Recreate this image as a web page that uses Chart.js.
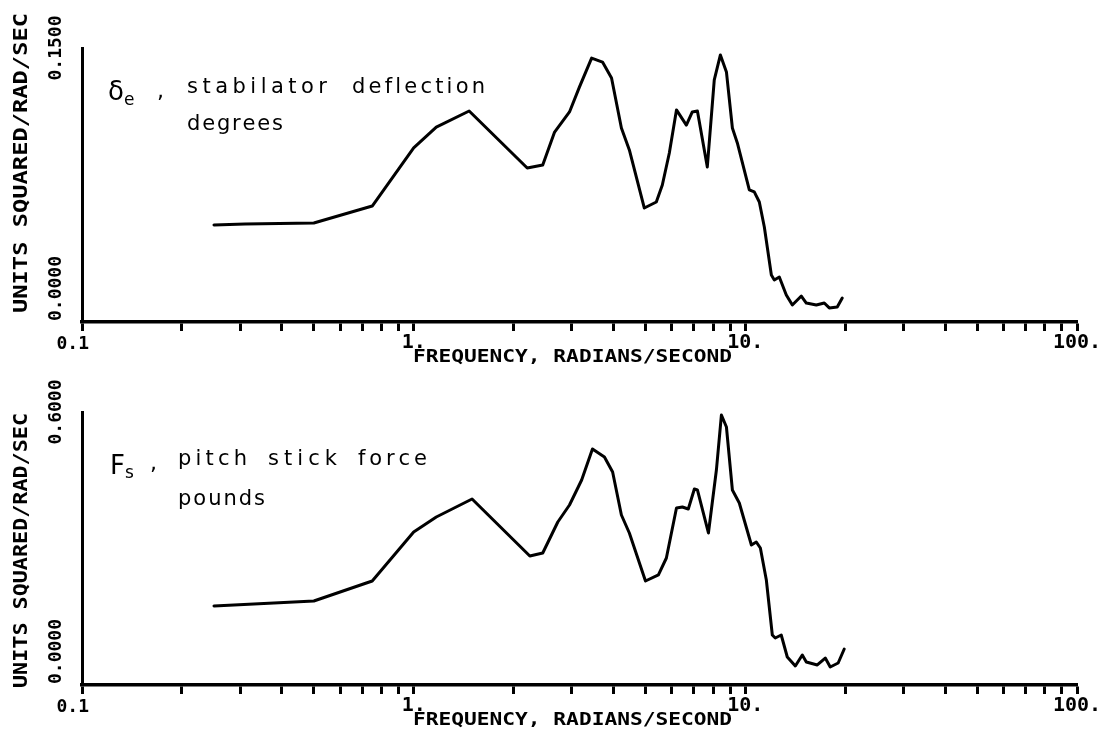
<!DOCTYPE html>
<html>
<head>
<meta charset="utf-8">
<script src="https://cdn.jsdelivr.net/npm/chart.js@4.4.0/dist/chart.umd.min.js"></script>
<style>
  html, body { margin: 0; padding: 0; background: #fff; }
  canvas { display: block; }
</style>
</head>
<body>
<canvas id="graficoStab" width="1105" height="370"></canvas>
<canvas id="graficoStick" width="1105" height="369"></canvas>
<script>
// frequencias (rad/s) e densidade espectral
const freqStab = [0.25, 0.31, 0.5, 0.75, 1.0, 1.17, 1.47, 2.2, 2.45, 2.66, 2.95, 3.16, 3.44, 3.71, 3.95, 4.23, 4.47, 4.96, 5.39, 5.62, 5.9, 6.2, 6.64, 6.92, 7.17, 7.68, 8.06, 8.41, 8.77, 9.14, 9.46, 10.28, 10.64, 11.02, 11.41, 11.98, 12.23, 12.66, 13.29, 13.86, 14.75, 15.27, 16.37, 17.3, 17.91, 18.93, 19.6];
const psdStab = [0.0531, 0.0536, 0.0542, 0.0635, 0.0953, 0.1067, 0.1155, 0.0843, 0.0859, 0.1040, 0.1150, 0.1286, 0.1445, 0.1423, 0.1336, 0.1062, 0.0942, 0.0624, 0.0657, 0.0750, 0.0925, 0.1161, 0.1078, 0.1150, 0.1155, 0.0849, 0.1325, 0.1462, 0.1369, 0.1062, 0.0980, 0.0723, 0.0712, 0.0657, 0.0520, 0.0257, 0.0230, 0.0246, 0.0148, 0.0093, 0.0142, 0.0104, 0.0093, 0.0104, 0.0077, 0.0082, 0.0131];

const freqStick = [0.25, 0.5, 0.75, 1.0, 1.17, 1.5, 2.24, 2.45, 2.72, 2.95, 3.21, 3.46, 3.76, 3.98, 4.23, 4.47, 5.0, 5.47, 5.78, 6.2, 6.46, 6.73, 7.02, 7.17, 7.74, 8.18, 8.47, 8.77, 9.14, 9.59, 10.43, 10.79, 11.1, 11.57, 12.06, 12.31, 12.83, 13.38, 14.15, 14.85, 15.27, 16.48, 17.42, 18.03, 19.05, 19.87];
const psdStick = [0.1736, 0.1846, 0.2286, 0.3363, 0.3692, 0.4088, 0.2835, 0.2901, 0.3582, 0.3956, 0.4505, 0.5187, 0.5011, 0.4681, 0.3736, 0.3341, 0.2286, 0.2418, 0.2791, 0.3890, 0.3912, 0.3868, 0.4308, 0.4286, 0.3341, 0.4725, 0.5934, 0.5670, 0.4286, 0.4000, 0.3077, 0.3143, 0.3011, 0.2308, 0.1099, 0.1033, 0.1099, 0.0615, 0.0418, 0.0659, 0.0505, 0.0440, 0.0593, 0.0396, 0.0484, 0.0791];

const xTicks = [0.1, 0.2, 0.3, 0.4, 0.5, 0.6, 0.7, 0.8, 0.9, 1, 2, 3, 4, 5, 6, 7, 8, 9, 10, 20, 30, 40, 50, 60, 70, 80, 90, 100];
const xTickLabels = { 1: '1.', 10: '10.', 100: '100.' };
const yTicksStab = [0, 0.15];
const yLabelsStab = ['0.0000', '0.1500'];
const yTicksStick = [0, 0.6];
const yLabelsStick = ['0.0000', '0.6000'];

const tituloX = 'FREQUENCY, RADIANS/SECOND';
const tituloY = 'UNITS SQUARED/RAD/SEC';
const MONO = '"DejaVu Sans Mono", monospace';
const MAO = '"DejaVu Sans", sans-serif';

// texto com espacamento ajustado a uma largura
function textoEspacado(ctx, texto, x, y, largura) {
  const ws = [...texto].map(c => ctx.measureText(c).width);
  const total = ws.reduce((a, b) => a + b, 0);
  const gap = texto.length > 1 ? (largura - total) / (texto.length - 1) : 0;
  let px = x;
  [...texto].forEach((c, i) => { ctx.fillText(c, px, y); px += ws[i] + gap; });
}

const textos = {
  id: 'textos',
  afterDraw(chart, args, o) {
    const ctx = chart.ctx;
    const ys = chart.scales.y;
    const y0 = ys.getPixelForValue(o.yTicks[0]);
    const y1 = ys.getPixelForValue(o.yTicks[1]);
    ctx.save();
    ctx.fillStyle = '#000';
    ctx.textBaseline = 'middle';

    // rotulos do eixo y (girados)
    ctx.font = 'bold 18px ' + MONO;
    ctx.save(); ctx.translate(56, y0 - 1); ctx.rotate(-Math.PI / 2);
    ctx.textAlign = 'left'; ctx.fillText(o.yLabels[0], 0, 0); ctx.restore();
    ctx.save(); ctx.translate(56, y1); ctx.rotate(-Math.PI / 2);
    ctx.textAlign = 'center'; ctx.fillText(o.yLabels[1], 0, 0); ctx.restore();

    // titulo do eixo y
    ctx.font = 'bold 20px ' + MONO;
    ctx.save(); ctx.translate(22, o.tyStart); ctx.rotate(-Math.PI / 2);
    ctx.scale(o.tyLen / ctx.measureText(tituloY).width, 1);
    ctx.textAlign = 'left'; ctx.fillText(tituloY, 0, 0); ctx.restore();

    // 0.1 no canto
    ctx.font = 'bold 18px ' + MONO;
    ctx.textAlign = 'right';
    ctx.fillText('0.1', 89, y0 + 22);

    // titulo do eixo x
    ctx.font = 'bold 17px ' + MONO;
    ctx.save(); ctx.translate(413, y0 + 36);
    ctx.scale(319 / ctx.measureText(tituloX).width, 1);
    ctx.textAlign = 'left'; ctx.fillText(tituloX, 0, 0); ctx.restore();

    // anotacoes a mao
    ctx.textBaseline = 'alphabetic';
    ctx.textAlign = 'left';
    o.notas.forEach(n => {
      ctx.font = (n.size || 21) + 'px ' + MAO;
      if (n.w) textoEspacado(ctx, n.t, n.x, n.y, n.w);
      else ctx.fillText(n.t, n.x, n.y);
    });
    ctx.restore();
  }
};

function montarGrafico(id, freq, psd, yTicks, yLabels, topo, alturaX, tyStart, tyLen, notas) {
  const ctx = document.getElementById(id).getContext('2d');
  return new Chart(ctx, {
    type: 'line',
    data: {
      datasets: [{
        data: freq.map((f, i) => ({ x: f, y: psd[i] })),
        borderColor: '#000',
        borderWidth: 3,
        borderJoinStyle: 'round',
        borderCapStyle: 'round',
        pointRadius: 0,
        tension: 0,
        fill: false
      }]
    },
    options: {
      responsive: false,
      animation: false,
      layout: { padding: { top: topo, right: 28, left: 0, bottom: 0 } },
      plugins: {
        legend: { display: false },
        tooltip: { enabled: false },
        textos: { yTicks, yLabels, tyStart, tyLen, notas }
      },
      scales: {
        x: {
          type: 'logarithmic',
          min: 0.1,
          max: 100,
          afterBuildTicks: s => { s.ticks = xTicks.map(v => ({ value: v })); },
          afterFit: s => { s.height = alturaX; },
          ticks: {
            autoSkip: false,
            maxRotation: 0,
            minRotation: 0,
            padding: 0,
            color: '#000',
            font: { family: MONO, weight: 'bold', size: 20 },
            callback: v => xTickLabels[v] || ''
          },
          grid: { drawOnChartArea: false, drawTicks: true, tickLength: 9, tickWidth: 3, color: '#000' },
          border: { display: true, width: 3.5, color: '#000' }
        },
        y: {
          min: yTicks[0],
          max: yTicks[1],
          afterFit: s => { s.width = 82; },
          ticks: { display: false },
          grid: { display: false },
          border: { display: true, width: 3, color: '#000' }
        }
      }
    },
    plugins: [textos]
  });
}

montarGrafico('graficoStab', freqStab, psdStab, yTicksStab, yLabelsStab, 48, 48, 313, 300, [
  { t: 'δ', x: 108, y: 100, size: 26 },
  { t: 'e', x: 124, y: 105, size: 17 },
  { t: ',', x: 157, y: 98, size: 22 },
  { t: 'stabilator', x: 187, y: 93, w: 140 },
  { t: 'deflection', x: 352, y: 93, w: 133 },
  { t: 'degrees', x: 187, y: 130, w: 96 }
]);

montarGrafico('graficoStick', freqStick, psdStick, yTicksStick, yLabelsStick, 42, 54, 318, 275, [
  { t: 'F', x: 110, y: 104, size: 26 },
  { t: 's', x: 125, y: 108, size: 17 },
  { t: ',', x: 150, y: 100, size: 22 },
  { t: 'pitch', x: 178, y: 95, w: 69 },
  { t: 'stick', x: 268, y: 95, w: 69 },
  { t: 'force', x: 358, y: 95, w: 69 },
  { t: 'pounds', x: 178, y: 135, w: 87 }
]);
</script>
</body>
</html>
